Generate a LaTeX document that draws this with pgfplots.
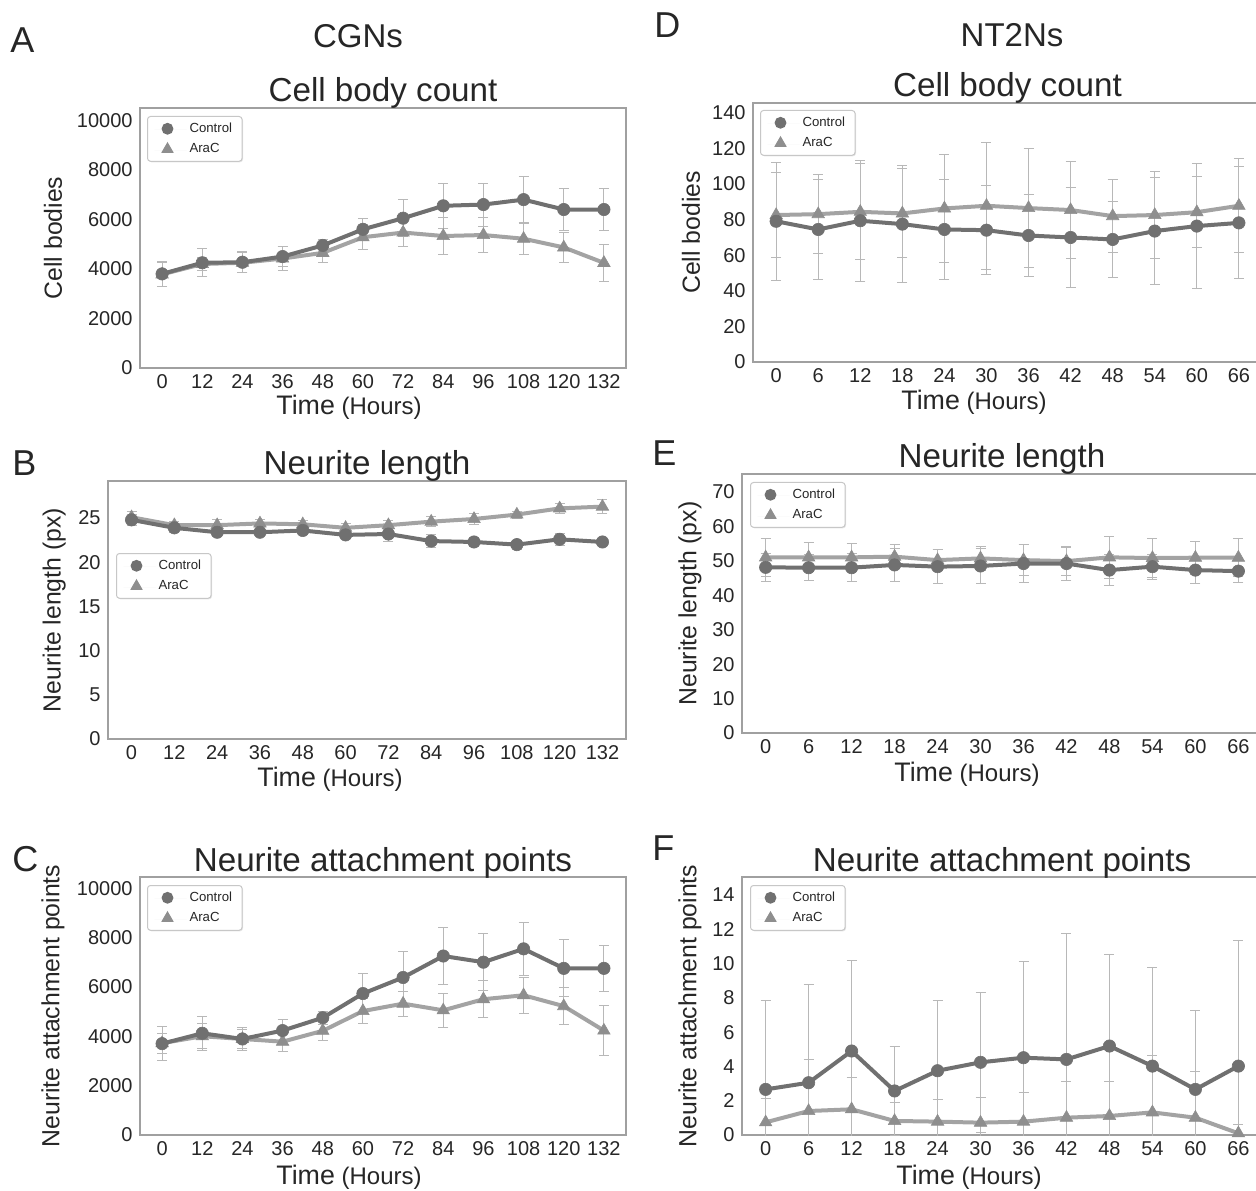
\documentclass[border=0pt]{standalone}
\usepackage{fontspec}
\setmainfont{Liberation Sans}
\usepackage{pgfplots}
\usepackage{pgfplotstable}
\pgfplotsset{compat=1.18}
\usetikzlibrary{shadows}

\definecolor{ctrl}{HTML}{707070}
\definecolor{arac}{HTML}{A3A3A3}
\definecolor{aracmk}{HTML}{8E8E8E}
\definecolor{errc}{HTML}{B8B8B8}
\definecolor{framec}{HTML}{A0A0A0}
\definecolor{txt}{HTML}{262626}

% t  control  control-err  arac  arac-err
\pgfplotstableread{
t   c     ce    a     ae
0   3800  500   3780  480
12  4250  570   4200  270
24  4270  430   4250  400
36  4500  420   4420  500
48  4950  250   4650  400
60  5600  450   5280  500
72  6050  750   5470  550
84  6550  900   5330  750
96  6600  870   5370  700
108 6800  950   5220  650
120 6400  830   4870  600
132 6400  830   4245  750
}\dataA

\pgfplotstableread{
t   c     ce    a     ae
0   24.8  0.6   25.1  0.6
12  23.9  0.5   24.2  0.4
24  23.4  0.3   24.2  0.6
36  23.4  0.4   24.4  0.4
48  23.6  0.3   24.3  0.4
60  23.1  0.4   23.9  0.5
72  23.2  0.8   24.2  0.5
84  22.4  0.7   24.6  0.6
96  22.3  0.5   24.9  0.6
108 22.0  0.5   25.4  0.4
120 22.6  0.7   26.1  0.6
132 22.3  0.4   26.3  0.8
}\dataB

\pgfplotstableread{
t   c     ce    a     ae
0   3700  700   3720  400
12  4120  700   4000  500
24  3890  450   3890  400
36  4230  450   3780  400
48  4750  270   4220  400
60  5730  800   5020  500
72  6380  1050  5320  500
84  7250  1150  5050  680
96  7000  1160  5500  750
108 7540  1060  5660  720
120 6750  1160  5220  760
132 6750  930   4230  1000
}\dataC

\pgfplotstableread{
t   c     ce    a     ae
0   79.0  33    82.5  24
6   74.4  28    83.0  22
12  79.3  34    84.3  27
18  77.4  33    83.4  25
24  74.4  28    86.2  30.5
30  74.0  25    87.7  35.5
36  71.0  23    86.4  33.5
42  69.9  28    85.3  27
48  68.8  21.5  81.9  20.5
54  73.5  30    82.5  24.5
60  76.3  35    84.1  20
66  78.1  31.5  87.7  26.5
}\dataD

\pgfplotstableread{
t   c     ce    a     ae
0   48.1  4.0   51.0  5.5
6   48.0  3.8   51.0  4.2
12  48.0  4.0   51.0  4.0
18  48.8  4.9   51.2  3.5
24  48.3  5.0   50.2  3.0
30  48.5  5.0   50.7  3.4
36  49.2  5.5   50.2  4.5
42  49.2  4.8   49.9  4.2
48  47.3  4.5   51.0  6.0
54  48.3  3.6   50.8  5.7
60  47.3  3.9   50.9  4.8
66  47.0  3.4   50.9  5.6
}\dataE

\pgfplotstableread{
t   c     ce    a     ae
0   2.66  5.16  0.74  1.40
6   3.05  5.74  1.40  3.00
12  4.90  5.27  1.50  1.84
18  2.57  2.62  0.82  1.07
24  3.75  4.12  0.78  1.32
30  4.24  4.08  0.72  1.48
36  4.51  5.64  0.78  1.69
42  4.41  7.35  1.01  2.14
48  5.19  5.35  1.11  2.00
54  4.02  5.74  1.32  3.29
60  2.66  4.63  1.01  2.68
66  4.02  7.35  0.10  0.54
}\dataF

\pgfplotsset{
  panel/.style={
    scale only axis,
    anchor=north west,
    ymin=0,
    scaled y ticks=false,
    clip=true,
    axis line style={draw=framec, line width=0.7pt},
    major tick length=0pt,
    tick label style={font=\fontsize{10}{12}\selectfont, text=txt, inner sep=0pt},
    yticklabel style={xshift=-3.5pt},
    xticklabel style={yshift=-3pt},
    /pgf/number format/assume math mode=true,
    /pgf/number format/1000 sep={},
    every axis title shift=0pt,
    title style={font=\fontsize{16.6}{20}\selectfont, text=txt,
      at={(axis description cs:0.5,1)}, anchor=base, yshift=3pt},
    ylabel style={font=\fontsize{12.4}{15}\selectfont, text=txt, anchor=center},
    xlabel style={font=\fontsize{12}{14}\selectfont, text=txt,
      at={(axis description cs:0.5,0)}, anchor=north, inner sep=0pt},
    xlabel={{\fontsize{13.4}{16}\selectfont Time} (Hours)},
    legend style={font=\fontsize{6.6}{8}\selectfont, text=txt, draw=black!22,
      line width=0.5pt, rounded corners=1.5pt, inner xsep=3pt, inner ysep=1pt,
      anchor=north west, at={(axis description cs:0,1)},
      general shadow={shadow xshift=0.5pt, shadow yshift=-0.5pt, fill=black!10}},
    legend cell align=left,
    legend image code/.code={
      \path[draw=none, fill=none] (0pt,0pt) -- (16pt,0pt);
      \draw[sharp corners, ##1, only marks] plot coordinates {(7pt,0pt)};},
  },
  hours132/.style={xmin=-6.6, xmax=138.6, xtick={0,12,...,132}},
  hours66/.style={xmin=-3.3, xmax=69.3, xtick={0,6,...,66}},
  ctrlstyle/.style={color=ctrl, line width=2pt, mark=*, mark size=3.1pt,
    mark options={solid, fill=ctrl, draw=ctrl, line width=0.3pt}},
  aracstyle/.style={color=arac, line width=2pt, mark=triangle*, mark size=3.6pt,
    mark options={solid, fill=aracmk, draw=aracmk, line width=0.3pt}},
  errstyle/.style={draw=none, mark=none, forget plot,
    error bars/.cd, y dir=both, y explicit,
    error bar style={draw=errc, line width=0.5pt},
    error mark options={rotate=90, mark size=2.5pt, draw=errc, line width=0.5pt}},
}

\newcommand{\series}[1]{%
  \addplot[errstyle] table[x=t, y=c, y error=ce] {#1};
  \addplot[errstyle] table[x=t, y=a, y error=ae] {#1};
  \addplot[aracstyle, forget plot] table[x=t, y=a] {#1};
  \addplot[ctrlstyle, forget plot] table[x=t, y=c] {#1};
  \addlegendimage{only marks, draw=none, mark=*, mark size=2.7pt, mark options={fill=ctrl, draw=ctrl}}
  \addlegendentry{Control}
  \addlegendimage{only marks, draw=none, mark=triangle*, mark size=3.1pt, mark options={fill=aracmk, draw=aracmk}}
  \addlegendentry{AraC}
}

\begin{document}
\begin{tikzpicture}

% ---- A
\begin{axis}[panel, hours132, at={(70pt,541pt)}, width=243pt, height=130pt,
  ymax=10500, ytick={0,2000,...,10000},
  title={Cell body count}, ylabel={Cell bodies},
  ylabel style={at={(axis description cs:-0.179,0.5)}},
  xlabel style={xshift=-17pt, yshift=-13.5pt},
  legend style={xshift=3.5pt, yshift=-4pt}]
\series{\dataA}
\end{axis}

% ---- B
\begin{axis}[panel, hours132, at={(54pt,354.5pt)}, width=259pt, height=129pt,
  ymax=29.2, ytick={0,5,...,25},
  title={Neurite length}, ylabel={Neurite length (px)},
  ylabel style={at={(axis description cs:-0.104,0.5)}},
  xlabel style={xshift=-18.5pt, yshift=-14pt},
  legend style={xshift=4pt, yshift=-36pt}]
\series{\dataB}
\end{axis}

% ---- C
\begin{axis}[panel, hours132, at={(70pt,156.5pt)}, width=243pt, height=129pt,
  ymax=10450, ytick={0,2000,...,10000},
  title={Neurite attachment points}, ylabel={Neurite attachment points},
  ylabel style={at={(axis description cs:-0.179,0.5)}},
  xlabel style={xshift=-17pt, yshift=-15pt},
  legend style={xshift=3.5pt, yshift=-4pt}]
\series{\dataC}
\end{axis}

% ---- D
\begin{axis}[panel, hours66, at={(376.5pt,543.5pt)}, width=254.5pt, height=129.5pt,
  ymax=145.4, ytick={0,20,...,140},
  title={Cell body count}, ylabel={Cell bodies},
  ylabel style={at={(axis description cs:-0.122,0.5)}},
  xlabel style={xshift=-16.75pt, yshift=-14pt},
  legend style={xshift=3.5pt, yshift=-3.5pt}]
\series{\dataD}
\end{axis}

% ---- E
\begin{axis}[panel, hours66, at={(371pt,358pt)}, width=260pt, height=129.5pt,
  ymax=75.2, ytick={0,10,...,70},
  title={Neurite length}, ylabel={Neurite length (px)},
  ylabel style={at={(axis description cs:-0.1,0.5)}},
  xlabel style={xshift=-17.5pt, yshift=-14.5pt},
  legend style={xshift=4pt, yshift=-4pt}]
\series{\dataE}
\end{axis}

% ---- F
\begin{axis}[panel, hours66, at={(371pt,156.5pt)}, width=260pt, height=129pt,
  ymax=15.05, ytick={0,2,...,14},
  title={Neurite attachment points}, ylabel={Neurite attachment points},
  ylabel style={at={(axis description cs:-0.1,0.5)}},
  xlabel style={xshift=-16.5pt, yshift=-15pt},
  legend style={xshift=4pt, yshift=-4pt}]
\series{\dataF}
\end{axis}

% panel letters and column headers
\begin{scope}[every node/.style={inner sep=0pt, text=txt}]
\node[anchor=base west, font=\fontsize{18}{20}\selectfont] at (5pt,568.5pt) {A};
\node[anchor=base west, font=\fontsize{18}{20}\selectfont] at (6pt,357pt) {B};
\node[anchor=base west, font=\fontsize{18}{20}\selectfont] at (6pt,159.5pt) {C};
\node[anchor=base west, font=\fontsize{18}{20}\selectfont] at (327pt,576pt) {D};
\node[anchor=base west, font=\fontsize{18}{20}\selectfont] at (326pt,362pt) {E};
\node[anchor=base west, font=\fontsize{18}{20}\selectfont] at (326pt,165pt) {F};
\node[anchor=base, font=\fontsize{16.5}{20}\selectfont] at (179pt,571pt) {CGNs};
\node[anchor=base, font=\fontsize{16.5}{20}\selectfont] at (506pt,571.5pt) {NT2Ns};
\end{scope}

\pgfresetboundingbox
\path[use as bounding box] (0pt,0pt) rectangle (628pt,595pt);
\end{tikzpicture}
\end{document}
